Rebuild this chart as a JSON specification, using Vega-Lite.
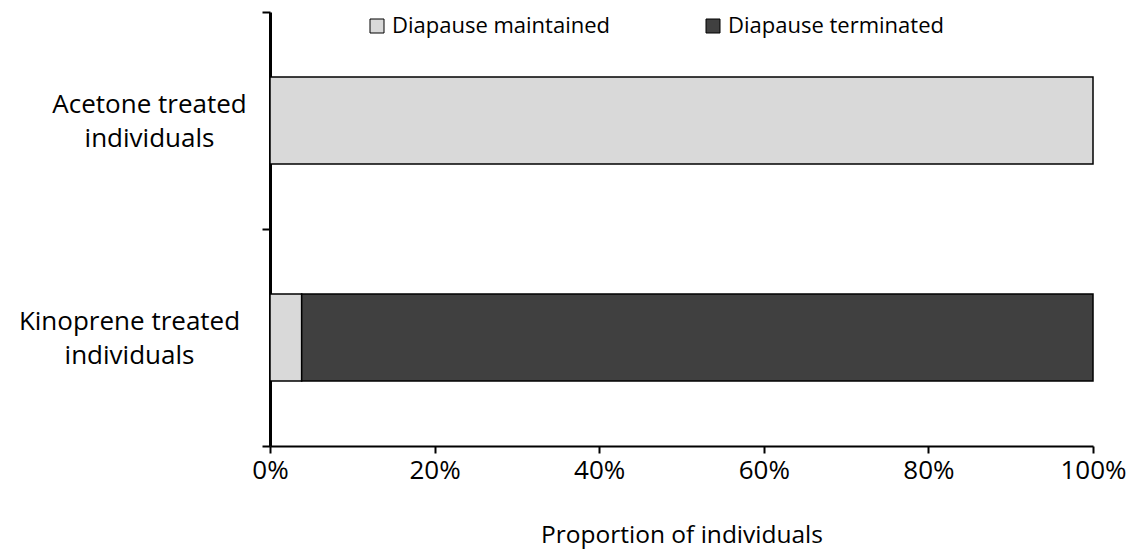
{
  "$schema": "https://vega.github.io/schema/vega-lite/v6.json",
  "autosize": "none",
  "width": 823,
  "height": 434,
  "padding": {"left": 270, "top": 12, "right": 46, "bottom": 110},
  "background": "white",
  "config": {
    "view": {"stroke": null},
    "font": "Open Sans",
    "axis": {"labelFont": "Open Sans", "titleFont": "Open Sans", "labelColor": "black", "titleColor": "black"}
  },
  "data": {
    "values": [
      {"group": "Acetone treated individuals", "outcome": "Diapause maintained", "pct": 100},
      {"group": "Kinoprene treated individuals", "outcome": "Diapause maintained", "pct": 3.85},
      {"group": "Kinoprene treated individuals", "outcome": "Diapause terminated", "pct": 96.15}
    ]
  },
  "mark": {"type": "bar", "stroke": "black", "strokeWidth": 1.5, "height": {"band": 0.4}},
  "encoding": {
    "y": {
      "field": "group",
      "type": "nominal",
      "sort": null,
      "scale": {"paddingInner": 0, "paddingOuter": 0},
      "axis": {
        "title": null,
        "tickBand": "extent",
        "domainColor": "black",
        "domainWidth": 3,
        "tickColor": "black",
        "tickWidth": 2,
        "tickSize": 8,
        "labelFontSize": 26,
        "labelAlign": "center",
        "labelLimit": 0,
        "labelPadding": {"condition": {"test": "datum.value == 'Acetone treated individuals'", "value": 113}, "value": 133},
        "labelOffset": -16,
        "labelLineHeight": 34,
        "labelExpr": "split(replace(datum.label, ' individuals', '|individuals'), '|')"
      }
    },
    "x": {
      "field": "pct",
      "type": "quantitative",
      "stack": "zero",
      "scale": {"domain": [0, 100], "nice": false},
      "axis": {
        "title": "Proportion of individuals",
        "values": [0, 20, 40, 60, 80, 100],
        "labelExpr": "datum.value + '%'",
        "labelFlush": false,
        "grid": false,
        "domainColor": "black",
        "domainWidth": 2,
        "tickColor": "black",
        "tickWidth": 2,
        "tickSize": 7,
        "labelFontSize": 26,
        "labelPadding": 4,
        "titleFontSize": 24.5,
        "titleFontWeight": "normal",
        "titlePadding": 40
      }
    },
    "color": {
      "field": "outcome",
      "type": "nominal",
      "scale": {"domain": ["Diapause maintained", "Diapause terminated"], "range": ["#d9d9d9", "#404040"]},
      "legend": {
        "title": null,
        "orient": "none",
        "legendX": 96,
        "legendY": 3,
        "direction": "horizontal",
        "symbolType": "square",
        "symbolSize": 196,
        "symbolStrokeColor": "black",
        "symbolStrokeWidth": 1,
        "labelFontSize": 22,
        "labelFont": "Open Sans",
        "labelColor": "black",
        "labelLimit": 0,
        "columnPadding": 91
      }
    },
    "order": {"field": "outcome", "sort": "ascending"}
  }
}
